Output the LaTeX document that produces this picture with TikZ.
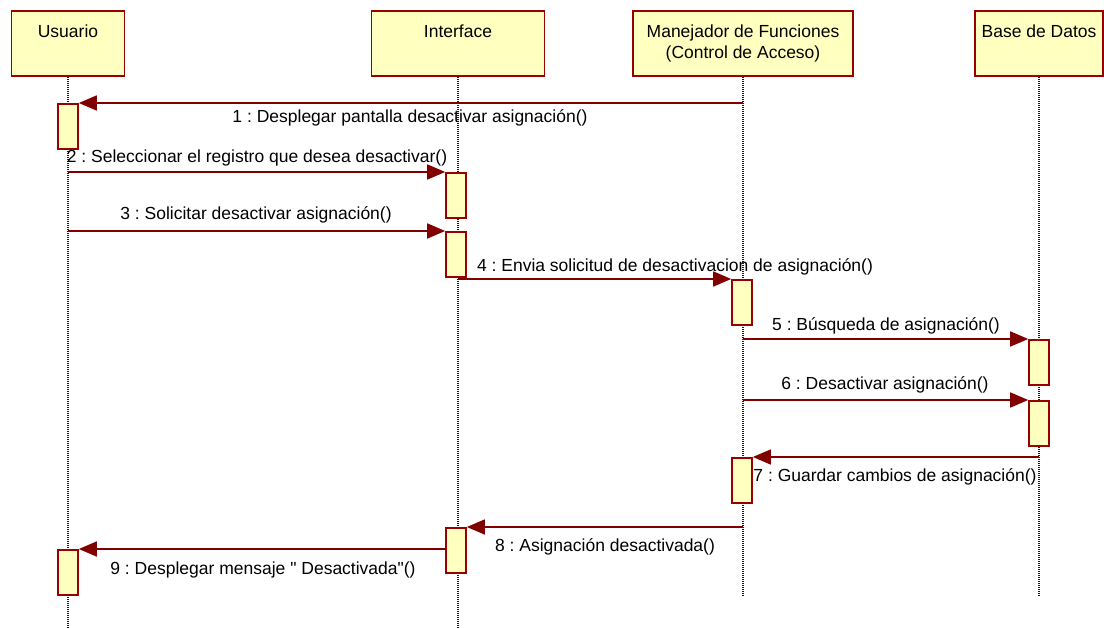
\documentclass[tikz,border=0pt]{standalone}
\usepackage{fontspec}
\setmainfont{Liberation Sans}[Ligatures=TeXOff]
\usepackage{tikz}
\usetikzlibrary{arrows.meta,positioning}
\definecolor{boxfill}{HTML}{FFFFC0}
\definecolor{boxline}{HTML}{990000}
\definecolor{msgline}{HTML}{800000}
\definecolor{lifegray}{HTML}{1A1A1A}
\tikzset{
  headbox/.style={draw=boxline,fill=boxfill,line width=1.6pt,
                  minimum height=65pt,inner sep=0pt},
  headtext/.style={font=\fontsize{17.5}{21}\selectfont,align=center,
                   anchor=north,inner sep=0pt,yshift=-14pt},
  actbox/.style={draw=boxline,fill=boxfill,line width=1.6pt,anchor=north,
                 minimum width=20pt,minimum height=45pt,inner sep=0pt},
  lifeline/.style={draw=lifegray,line width=1.1pt,dash pattern=on 1pt off 1pt},
  msgarr/.style={-{Triangle[length=18pt,width=15pt]},draw=msgline,line width=1.5pt},
  msglabel/.style={font=\fontsize{17.5}{21}\selectfont,inner sep=0pt}
}
\frenchspacing
\begin{document}
\begin{tikzpicture}[x=1pt,y=-1pt]
  \useasboundingbox (0,0) rectangle (1104,628);
  % objects
  \node[headbox,minimum width=113pt] (usuario) at (68,43.5) {};
  \node[headbox,minimum width=173pt] (interface) at (458,43.5) {};
  \node[headbox,minimum width=220pt] (manejador) at (743,43.5) {};
  \node[headbox,minimum width=128pt] (base) at (1039,43.5) {};
  \node[headtext] (usuario-t) at (usuario.north) {Usuario};
  \node[headtext] (interface-t) at (interface.north) {Interface};
  \node[headtext] (manejador-t) at (manejador.north) {Manejador de Funciones\\(Control de Acceso)};
  \node[headtext] (base-t) at (base.north) {Base de Datos};
  % lifelines
  \coordinate (usuario-end) at (68,628);
  \coordinate (interface-end) at (458,628);
  \coordinate (manejador-end) at (743,595);
  \coordinate (base-end) at (1039,595);
  \draw[lifeline] (usuario) -- (usuario-end);
  \draw[lifeline] (interface) -- (interface-end);
  \draw[lifeline] (manejador) -- (manejador-end);
  \draw[lifeline] (base) -- (base-end);
  % activations
  \node[actbox] (act1) at (68,103) {};
  \node[actbox] (act2) at (456,172) {};
  \node[actbox] (act3) at (456,231) {};
  \node[actbox] (act4) at (742,279) {};
  \node[actbox] (act5) at (1039,339) {};
  \node[actbox] (act6) at (1039,400) {};
  \node[actbox] (act7) at (742,457) {};
  \node[actbox] (act8) at (456,527) {};
  \node[actbox] (act9) at (68,549) {};
  % messages
  \draw[msgarr] (manejador |- act1.north) -- (act1.north east);
  \draw[msgarr] (usuario |- act2.north) -- (act2.north west);
  \draw[msgarr] (usuario |- act3.north) -- (act3.north west);
  \draw[msgarr] (interface |- act4.north) -- (act4.north west);
  \draw[msgarr] (manejador |- act5.north) -- (act5.north west);
  \draw[msgarr] (manejador |- act6.north) -- (act6.north west);
  \draw[msgarr] (base |- act7.north) -- (act7.north east);
  \draw[msgarr] (manejador |- act8.north) -- (act8.north east);
  \draw[msgarr] (act8.west |- act9.north) -- (act9.north east);
  \node[msglabel] (m1) at (410,118) {1 : Desplegar pantalla desactivar asignación()};
  \node[msglabel] (m2) at (257,158) {2 : Seleccionar el registro que desea desactivar()};
  \node[msglabel] (m3) at (256,215) {3 : Solicitar desactivar asignación()};
  \node[msglabel] (m4) at (675,267) {4 : Envia solicitud de desactivacion de asignación()};
  \node[msglabel] (m5) at (886,326) {5 : Búsqueda de asignación()};
  \node[msglabel] (m6) at (885,385) {6 : Desactivar asignación()};
  \node[msglabel] (m7) at (895,477) {7 : Guardar cambios de asignación()};
  \node[msglabel] (m8) at (605,547) {8 : Asignación desactivada()};
  \node[msglabel] (m9) at (263,570) {9 : Desplegar mensaje " Desactivada"()};
\end{tikzpicture}
\end{document}
